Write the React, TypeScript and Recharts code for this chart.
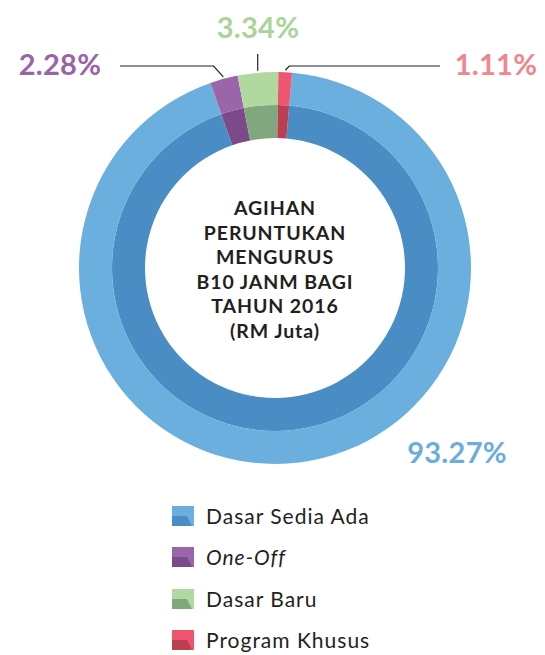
import React from "react";
import {Cell, Pie, PieChart} from "recharts";

// Agihan peruntukan mengurus B10 JANM 2016 (share of total, %)
const categories = ["Dasar Sedia Ada", "One-Off", "Dasar Baru", "Program Khusus"];
const shares = [93.27, 2.28, 3.34, 1.11];
const titleLines = ["AGIHAN", "PERUNTUKAN", "MENGURUS", "B10 JANM BAGI", "TAHUN 2016", "(RM Juta)"];

const outerColors = ["#6aafde", "#9b66a9", "#b0d89f", "#ef5570"];
const innerColors = ["#4a8dc4", "#7a4a89", "#80a77e", "#ba3f51"];
const labelColors = ["#6aaedc", "#9a64a8", "#a9d59a", "#f3858f"];

const data = categories.map((name, i) => ({name, value: shares[i]}));

const RAD = Math.PI / 180;
const FONT = "Lato, 'Open Sans', sans-serif";
const INK = "#231f20";

// where each percentage sits; leader lines run from the slice to it
const labelLayout = [
   {x: 457, y: 463, line: null},
   {x: 60, y: 75, line: {elbowY: 66, endX: 120}},
   {x: 258, y: 38, line: {elbowY: 54, endX: null}},
   {x: 496, y: 75, line: {elbowY: 66, endX: 440}},
];

const renderLabel = (props: any) => {
   const {cx, cy, midAngle, outerRadius, index, value} = props;
   const layout = labelLayout[index];
   const sx = cx + (outerRadius + 2) * Math.cos(-midAngle * RAD);
   const sy = cy + (outerRadius + 2) * Math.sin(-midAngle * RAD);
   let path: string | null = null;
   if (layout.line) {
      const {elbowY, endX} = layout.line;
      if (endX === null) {
         path = `M${sx},${sy}V${elbowY}`;
      } else {
         const dir = endX < sx ? -1 : 1;
         const ex = sx + dir * (sy - elbowY) * 0.9;
         path = `M${sx},${sy}L${ex},${elbowY}H${endX}`;
      }
   }
   return (
      <g key={`lbl-${index}`}>
         {path && <path d={path} stroke={INK} strokeWidth={1.2} fill="none"/>}
         <text
            x={layout.x}
            y={layout.y}
            textAnchor="middle"
            fill={labelColors[index]}
            fontFamily={FONT}
            fontWeight={700}
            fontSize={29}
            letterSpacing={0.3}
         >
            {`${Number(value).toFixed(2)}%`}
         </text>
      </g>
   );
};

const Swatch: React.FC<{light: string; dark: string}> = ({light, dark}) => (
   <svg width={22} height={20} style={{display: "block"}}>
      <rect x={0} y={0} width={22} height={20} fill={light}/>
      <polygon points="0,10 15,10 20,20 0,20" fill={dark}/>
   </svg>
);

const App: React.FC = () => {
   return (
      <div style={{position: "absolute", left: 0, top: 0, width: 545, height: 655, background: "#fff"}}>
         <PieChart width={545} height={655} margin={{top: 0, right: 0, bottom: 0, left: 0}}>
            <Pie
               data={data}
               dataKey="value"
               nameKey="name"
               cx={275}
               cy={268}
               innerRadius={130}
               outerRadius={163}
               startAngle={85}
               endAngle={-275}
               stroke="none"
               isAnimationActive={false}
            >
               {data.map((d, i) => (
                  <Cell key={d.name} fill={innerColors[i]}/>
               ))}
            </Pie>
            <Pie
               data={data}
               dataKey="value"
               nameKey="name"
               cx={275}
               cy={268}
               innerRadius={163}
               outerRadius={196}
               startAngle={85}
               endAngle={-275}
               stroke="none"
               label={renderLabel}
               labelLine={false}
               isAnimationActive={false}
            >
               {data.map((d, i) => (
                  <Cell key={d.name} fill={outerColors[i]}/>
               ))}
            </Pie>
         </PieChart>

         <div
            style={{
               position: "absolute",
               left: 155,
               top: 196,
               width: 240,
               textAlign: "center",
               fontFamily: FONT,
               fontWeight: 700,
               fontSize: 19.5,
               letterSpacing: 0.9,
               lineHeight: "24.5px",
               color: INK,
            }}
         >
            {titleLines.map((t) => (
               <div key={t}>{t}</div>
            ))}
         </div>

         <div style={{position: "absolute", left: 172, top: 495, fontFamily: FONT, color: INK}}>
            {categories.map((c, i) => (
               <div key={c} style={{display: "flex", alignItems: "center", height: 41.5}}>
                  <Swatch light={outerColors[i]} dark={innerColors[i]}/>
                  <span
                     style={{
                        marginLeft: 12,
                        fontSize: 21,
                        lineHeight: "24px",
                        letterSpacing: 1,
                        fontStyle: c === "One-Off" ? "italic" : "normal",
                     }}
                  >
                     {c}
                  </span>
               </div>
            ))}
         </div>
      </div>
   );
};

export default App;
